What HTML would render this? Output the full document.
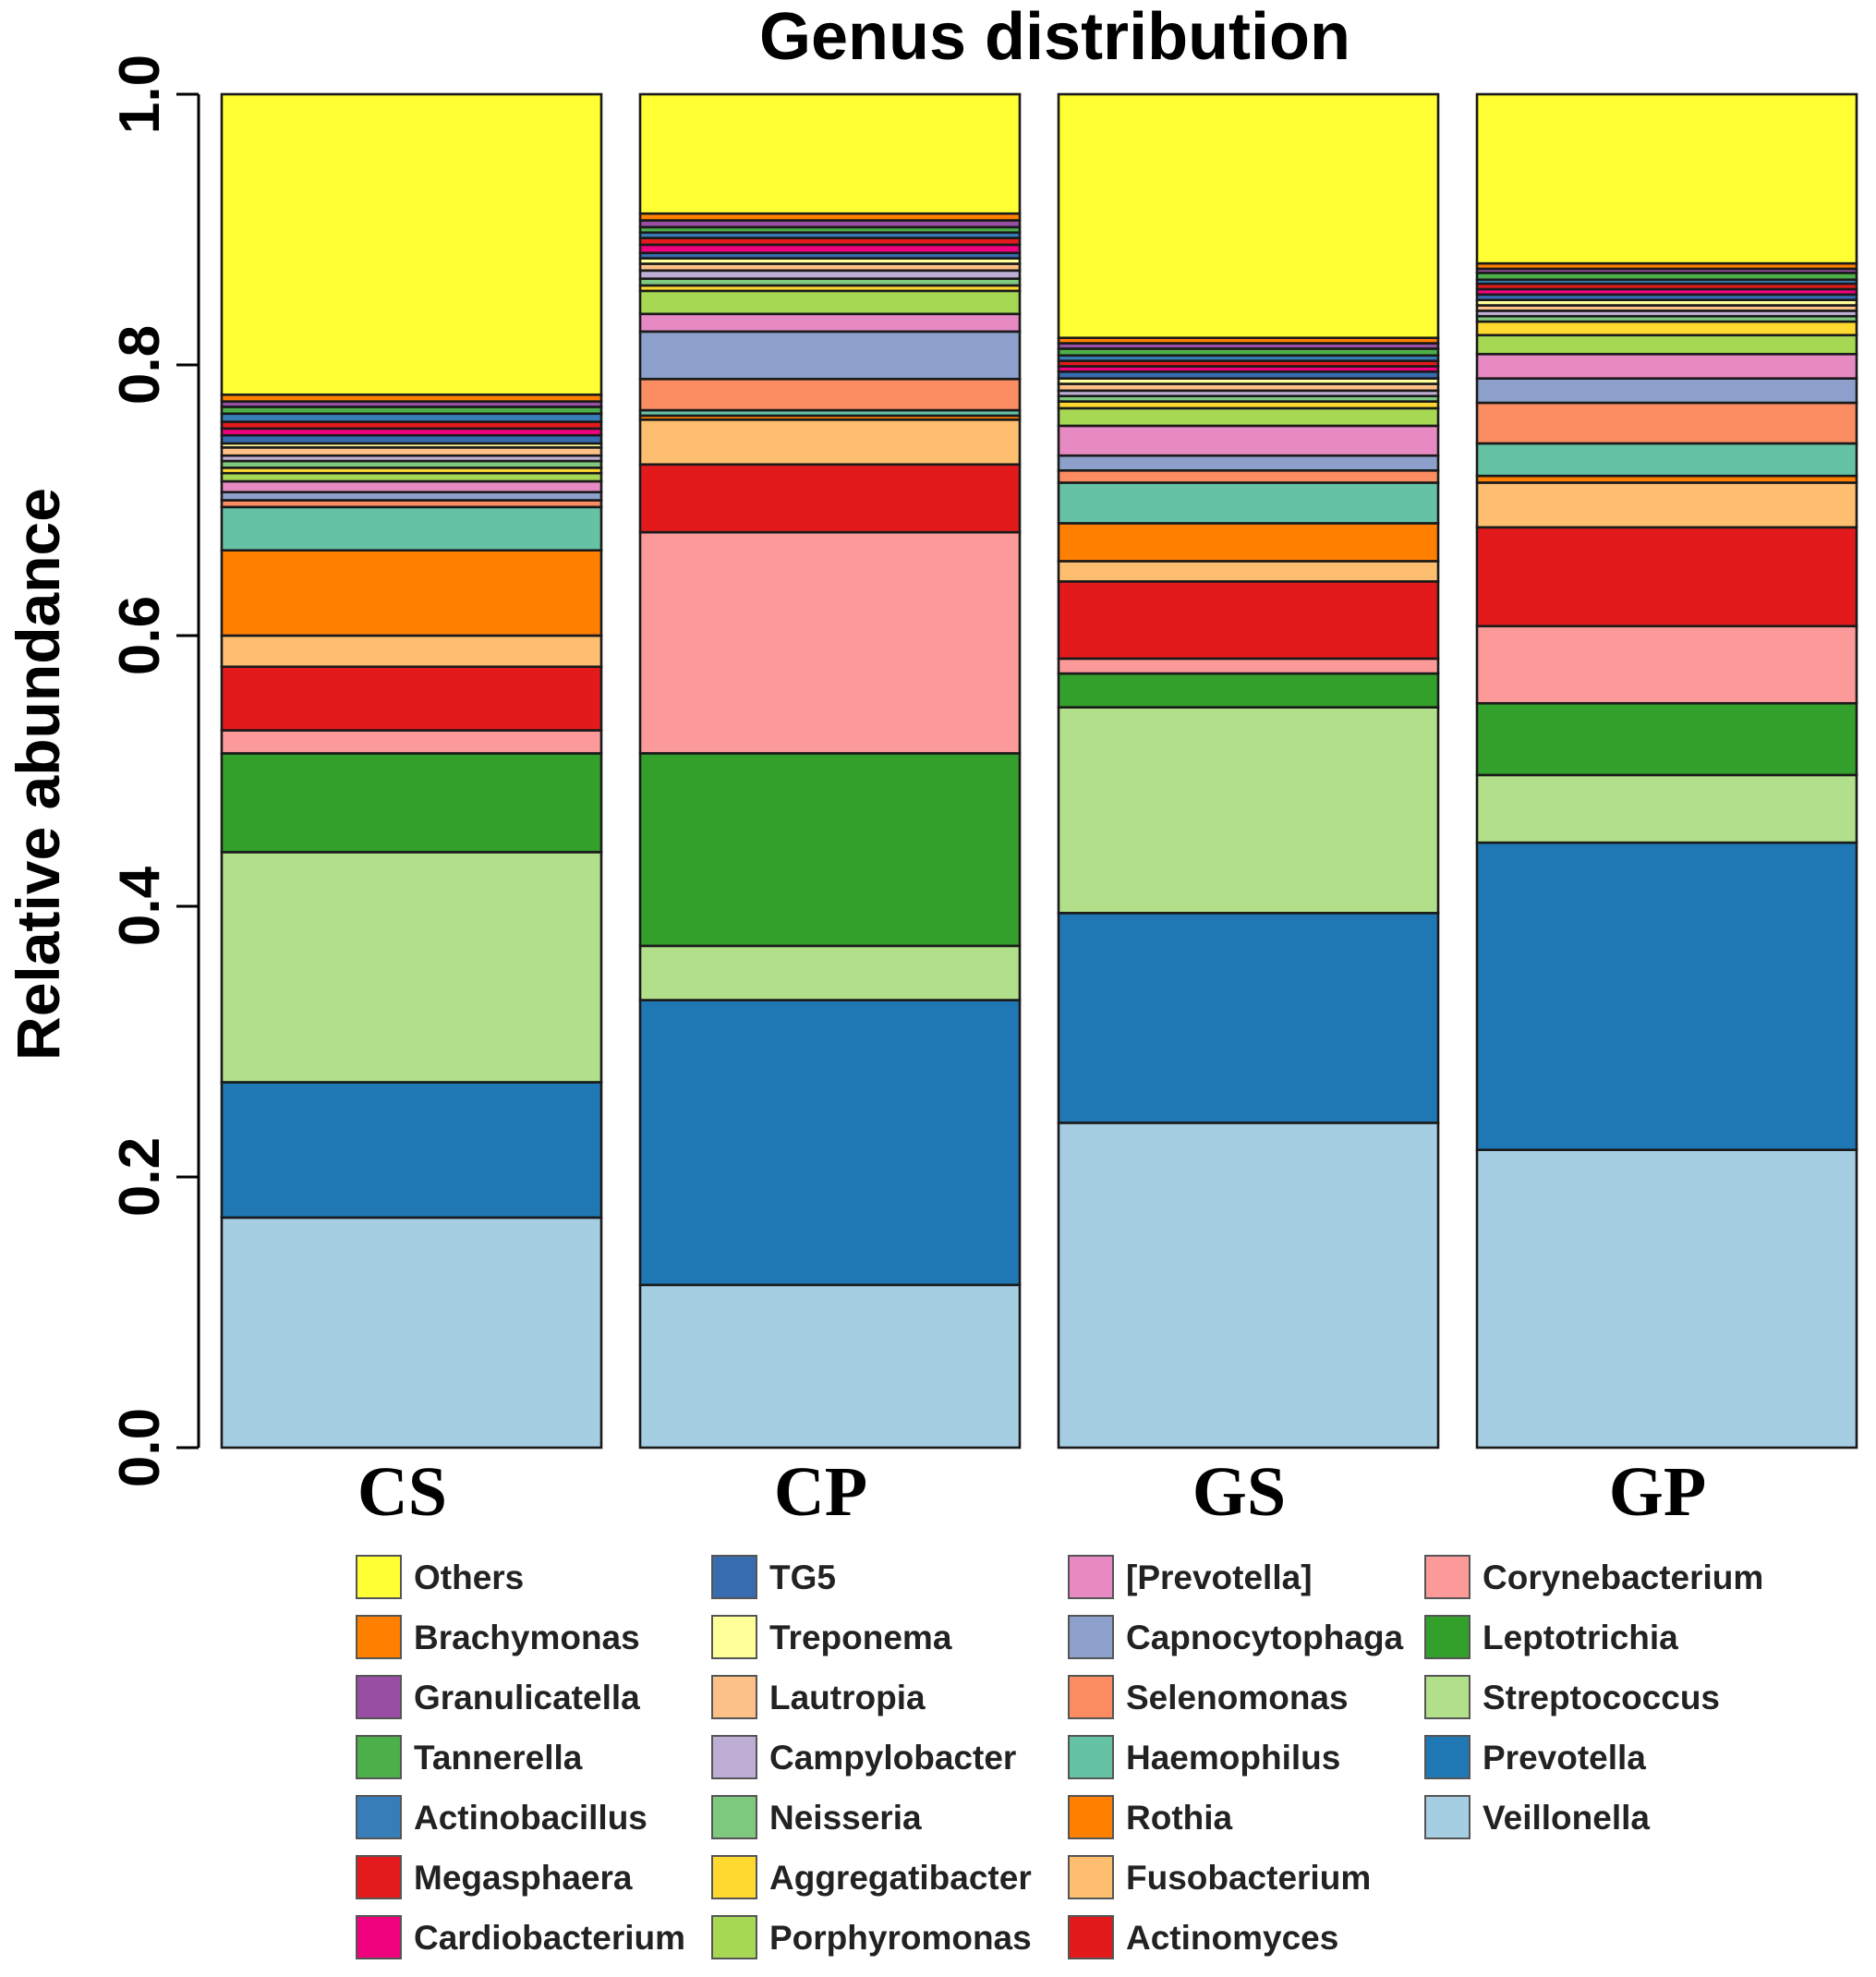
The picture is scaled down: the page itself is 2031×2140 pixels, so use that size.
<!DOCTYPE html>
<html><head><meta charset="utf-8"><style>
html,body{margin:0;padding:0;background:#fff}
svg{display:block}
</style></head><body>
<svg id="chart" width="2031" height="2140" viewBox="0 0 2031 2140" xmlns="http://www.w3.org/2000/svg">
<text x="1142" y="64" text-anchor="middle" font-family="Liberation Sans, sans-serif" font-weight="bold" font-size="72">Genus distribution</text>
<text transform="translate(64,838) rotate(-90)" text-anchor="middle" font-family="Liberation Sans, sans-serif" font-weight="bold" font-size="66">Relative abundance</text>
<g id="plot"></g>
<g id="legend"></g>
</svg>
<script>
const samples = ["CS","CP","GS","GP"];
const genera = ["Veillonella","Prevotella","Streptococcus","Leptotrichia","Corynebacterium","Actinomyces","Fusobacterium","Rothia","Haemophilus","Selenomonas","Capnocytophaga","[Prevotella]","Porphyromonas","Aggregatibacter","Neisseria","Campylobacter","Lautropia","Treponema","TG5","Cardiobacterium","Megasphaera","Actinobacillus","Tannerella","Granulicatella","Brachymonas","Others"];
const colors = ["#a6cee3","#1f78b4","#b2df8a","#33a02c","#fb9a99","#e31a1c","#fdbf6f","#ff7f00","#66c2a5","#fc8d62","#8da0cb","#e78ac3","#a6d854","#ffd92f","#7fc97f","#beaed4","#fdc086","#ffff99","#386cb0","#f0027f","#e41a1c","#377eb8","#4daf4a","#984ea3","#ff7f00","#ffff33"];
const valuesCS = [0.17,0.10,0.17,0.073,0.017,0.047,0.023,0.063,0.032,0.005,0.006,0.008,0.006,0.004,0.005,0.004,0.006,0.003,0.006,0.005,0.005,0.006,0.005,0.004,0.005,0.222];
const valuesCP = [0.12,0.21,0.04,0.142,0.163,0.05,0.033,0.003,0.004,0.023,0.035,0.013,0.017,0.004,0.005,0.006,0.005,0.004,0.004,0.006,0.005,0.004,0.004,0.005,0.005,0.088];
const valuesGS = [0.24,0.155,0.152,0.025,0.011,0.057,0.015,0.028,0.03,0.009,0.011,0.022,0.013,0.005,0.004,0.004,0.005,0.004,0.005,0.004,0.004,0.004,0.005,0.004,0.004,0.18];
const valuesGP = [0.22,0.227,0.05,0.053,0.057,0.073,0.033,0.005,0.024,0.03,0.018,0.018,0.014,0.01,0.004,0.004,0.004,0.004,0.004,0.004,0.004,0.003,0.005,0.003,0.004,0.125];
const yTicks = [0,0.2,0.4,0.6,0.8,1.0];
const yTickLabels = ["0.0","0.2","0.4","0.6","0.8","1.0"];

const NS="http://www.w3.org/2000/svg";
const plot=document.getElementById('plot');
const legend=document.getElementById('legend');
const allValues=[valuesCS,valuesCP,valuesGS,valuesGP];
const y0=1567, y1=102;
function yScale(v){return y0-(y0-y1)*v;}
const barLeft=240, barStep=453, barW=411;
function xScale(i){return barLeft+barStep*i;}
function mk(tag,attrs,parent){const e=document.createElementNS(NS,tag);for(const k in attrs)e.setAttribute(k,attrs[k]);parent.appendChild(e);return e;}

const ax=mk('line',{x1:215,x2:215,y1:yScale(0),y2:yScale(1),stroke:'#000','stroke-width':3},plot);


yTicks.forEach((t,i)=>{
  const tk=mk('line',{x1:191,x2:215,y1:yScale(t),y2:yScale(t),stroke:'#000','stroke-width':3},plot);
  
  
  const tl=mk('text',{transform:`translate(172,${yScale(t)}) rotate(-90)`,'text-anchor':'middle','font-family':'Liberation Sans, sans-serif','font-weight':'bold','font-size':62},plot);
  tl.textContent=yTickLabels[i];
  
  
});

allValues.forEach((vals,si)=>{
  const total=vals.reduce((a,b)=>a+b,0);
  let cum=0;
  const x=xScale(si);
  vals.forEach((v,gi)=>{
    const top=yScale((cum+v)/total), bot=yScale(cum/total);
    const r=mk('rect',{x:x,y:top,width:barW,height:Math.max(0,bot-top),fill:colors[gi],stroke:'#1a1a1a','stroke-width':2.6},plot);
    
    
    cum+=v;
  });
  const lab=mk('text',{x:x+barW/2-10,y:1640,'text-anchor':'middle','font-family':'Liberation Serif, serif','font-weight':'bold','font-size':76},plot);
  lab.textContent=samples[si];
  
  
});

const legOrder=genera.map((g,i)=>i).reverse();
const colX=[386,771,1157,1543];
legOrder.forEach((gi,k)=>{
  const c=Math.floor(k/7), r=k%7;
  const x=colX[c], y=1684+r*65;
  const sw=mk('rect',{x:x,y:y,width:48,height:46,fill:colors[gi],stroke:'#555','stroke-width':2},legend);
  
  
  const t=mk('text',{x:x+62,y:y+36,'font-family':'Liberation Sans, sans-serif','font-weight':'bold','font-size':37,fill:'#222'},legend);
  t.textContent=genera[gi];
  
  
});
</script>
</body></html>
